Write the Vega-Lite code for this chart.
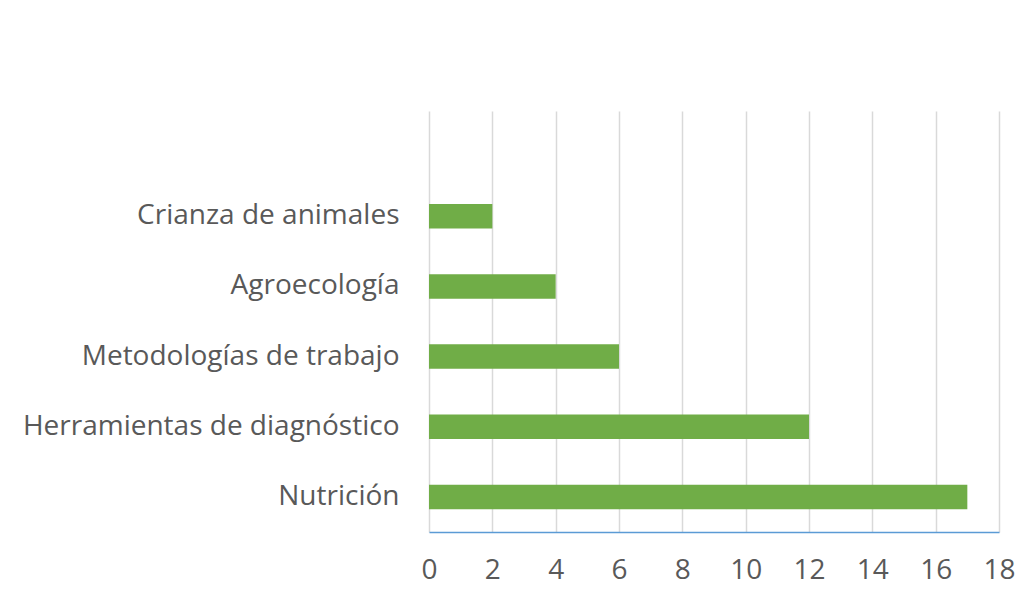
{
  "$schema": "https://vega.github.io/schema/vega-lite/v6.json",
  "autosize": {"type": "none"},
  "width": 570,
  "height": 421,
  "padding": {"left": 429, "top": 111, "right": 35, "bottom": 68},
  "background": "white",
  "config": {
    "view": {"stroke": null},
    "font": "Open Sans"
  },
  "data": {
    "values": [
      {"tema": "Crianza de animales", "n": 2},
      {"tema": "Agroecología", "n": 4},
      {"tema": "Metodologías de trabajo", "n": 6},
      {"tema": "Herramientas de diagnóstico", "n": 12},
      {"tema": "Nutrición", "n": 17}
    ]
  },
  "mark": {"type": "bar", "color": "#70AD47"},
  "encoding": {
    "y": {
      "field": "tema",
      "type": "nominal",
      "scale": {
        "domain": [" ", "Crianza de animales", "Agroecología", "Metodologías de trabajo", "Herramientas de diagnóstico", "Nutrición"],
        "paddingInner": 0.65,
        "paddingOuter": 0.325
      },
      "axis": {
        "title": null,
        "domain": false,
        "ticks": false,
        "labelFontSize": 28,
        "labelColor": "#595959",
        "labelPadding": 30,
        "labelLimit": 500
      }
    },
    "x": {
      "field": "n",
      "type": "quantitative",
      "scale": {"domain": [0, 18], "nice": false},
      "axis": {
        "title": null,
        "values": [0, 2, 4, 6, 8, 10, 12, 14, 16, 18],
        "domainColor": "#5B9BD5",
        "domainWidth": 1.5,
        "ticks": false,
        "grid": true,
        "gridColor": "#D9D9D9",
        "gridWidth": 1.5,
        "labelFontSize": 28,
        "labelColor": "#595959",
        "labelPadding": 24,
        "labelFlush": false
      }
    }
  }
}
